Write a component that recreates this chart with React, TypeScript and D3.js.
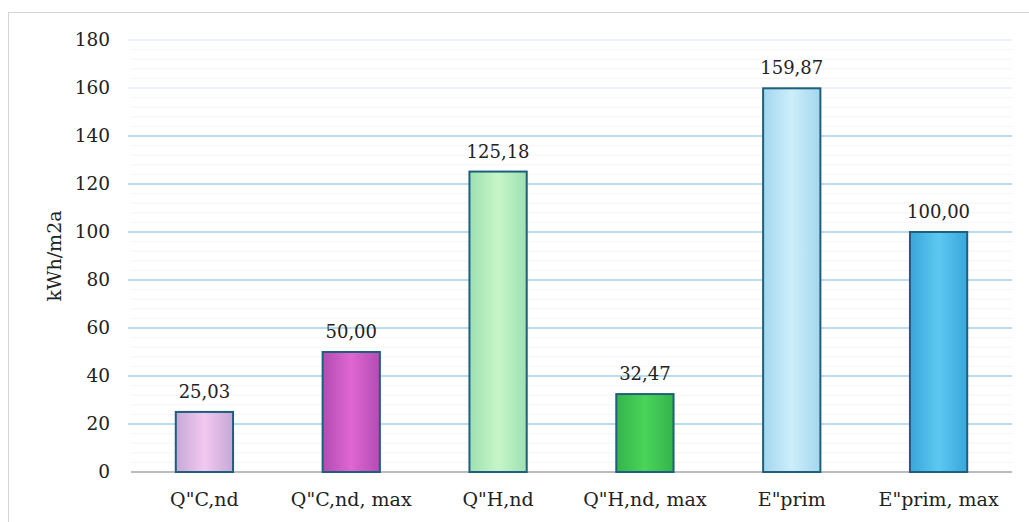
import React from 'react';
import * as d3 from 'd3';

const categories = ['Q"C,nd', 'Q"C,nd, max', 'Q"H,nd', 'Q"H,nd, max', 'E"prim', 'E"prim, max'];
const values = [25.03, 50.0, 125.18, 32.47, 159.87, 100.0];
const valueLabels = ['25,03', '50,00', '125,18', '32,47', '159,87', '100,00'];
const yTicks = [0, 20, 40, 60, 80, 100, 120, 140, 160, 180];
// [edge, centre] colour per bar
const barColors: [string, string][] = [
    ['#c6a8d6', '#f2c8f0'],
    ['#b24cb4', '#e066d2'],
    ['#9ee0b0', '#c6f6c8'],
    ['#34b44a', '#4ad45a'],
    ['#a4d6ee', '#cdeefb'],
    ['#3aa6da', '#5cc8f2'],
];

const W = 1029;
const H = 522;
const FONT = 'DejaVu Serif, Liberation Serif, serif';

const App: React.FC = () => {
    const x = d3.scaleBand<string>()
        .domain(categories)
        .range([131, 1012])
        .paddingInner(0.61)
        .paddingOuter(0.305);

    const y = d3.scaleLinear()
        .domain([0, 180])
        .range([472, 40]);

    const minorTicks = d3.range(0, 181, 4).filter(v => v % 20 !== 0);

    return (
        <svg width={W} height={H} style={{ position: 'absolute', left: 0, top: 0, background: '#fff' }}>
            <defs>
                {barColors.map((c, i) => (
                    <linearGradient key={i} id={`bar${i}`} x1="0" x2="1" y1="0" y2="0">
                        <stop offset="0%" stopColor={c[0]} />
                        <stop offset="50%" stopColor={c[1]} />
                        <stop offset="100%" stopColor={c[0]} />
                    </linearGradient>
                ))}
            </defs>
            <rect x={8.5} y={12.5} width={1040} height={520} fill="#fff" stroke="#d4d4d4" strokeWidth={1} />

            {/* minor grid */}
            {minorTicks.map(t => (
                <line key={'m' + t} x1={131} x2={1012} y1={y(t)} y2={y(t)} stroke="#f6f4f8" strokeWidth={1} />
            ))}
            {/* major grid */}
            {yTicks.filter(t => t > 0).map(t => (
                <line key={'g' + t} x1={128} x2={1012} y1={y(t)} y2={y(t)}
                    stroke={t >= 160 ? '#e6edf4' : '#9fd2e8'} strokeWidth={1.3} />
            ))}
            <line x1={131} x2={1012} y1={y(0)} y2={y(0)} stroke="#a6a6a6" strokeWidth={1.5} />

            {/* y tick labels */}
            {yTicks.map(t => (
                <text key={'t' + t} x={110} y={y(t)} dy="0.35em" textAnchor="end"
                    fontFamily={FONT} fontSize={18.5} fill="#222">{t}</text>
            ))}
            <text transform={`translate(61, ${y(90)}) rotate(-90)`} textAnchor="middle"
                fontFamily={FONT} fontSize={19} fill="#222">kWh/m2a</text>

            {/* bars */}
            {categories.map((c, i) => (
                <g key={c}>
                    <rect x={x(c)} y={y(values[i])} width={x.bandwidth()} height={y(0) - y(values[i])}
                        fill={`url(#bar${i})`} stroke="#1d5f7c" strokeWidth={2} />
                    <text x={(x(c) ?? 0) + x.bandwidth() / 2} y={y(values[i]) - 14} textAnchor="middle"
                        fontFamily={FONT} fontSize={18} fill="#222">{valueLabels[i]}</text>
                    <text x={(x(c) ?? 0) + x.bandwidth() / 2} y={506} textAnchor="middle"
                        fontFamily={FONT} fontSize={19} fill="#222">{c}</text>
                </g>
            ))}
        </svg>
    );
};

export default App;
